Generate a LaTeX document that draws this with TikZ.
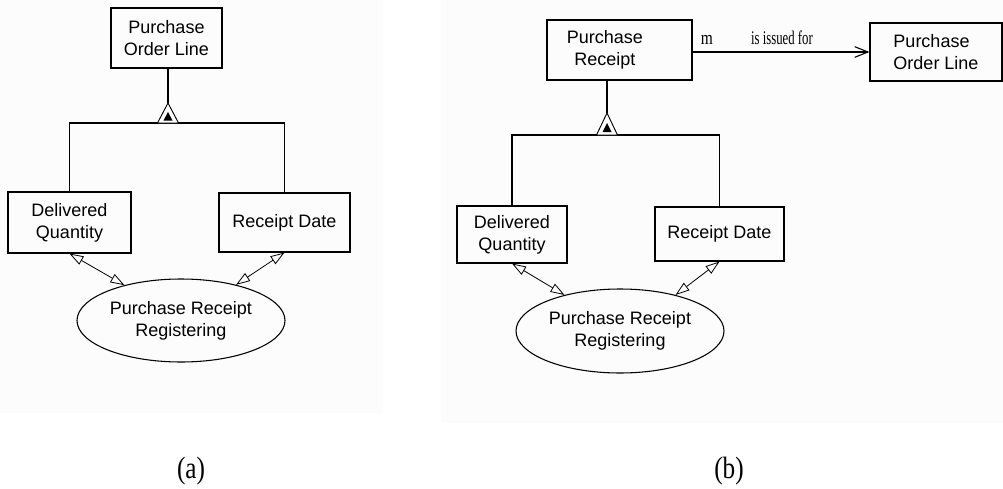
\documentclass[tikz,border=0pt]{standalone}
\usepackage{fontspec}
\setmainfont{Liberation Sans}
\newfontfamily\capfont{Liberation Serif}
\usepackage{graphicx}
\usetikzlibrary{arrows.meta,shapes.geometric}
\begin{document}
\begin{tikzpicture}[x=0.75pt,y=-0.75pt,
  line width=0.8pt,
  box/.style={draw,rectangle,inner sep=0pt,font=\fontsize{13.5}{16.5}\selectfont,align=center},
  usecase/.style={draw,ellipse,inner sep=0pt,font=\fontsize{13.5}{16.5}\selectfont,align=center},
  dep/.style={{Triangle[open,length=10.5pt,width=7pt]}-{Triangle[open,length=10.5pt,width=7pt]},line width=0.6pt},
  assoc/.style={-{Straight Barb[length=10pt,width=8pt]},line width=0.8pt},
  lbl/.style={font=\capfont\fontsize{14.5}{14.5}\selectfont,inner sep=0pt},
  captxt/.style={font=\capfont\fontsize{21}{21}\selectfont,inner sep=0pt,anchor=base},
  panel/.style={fill=black!1.2,draw=none}]
\useasboundingbox (0,0) rectangle (1003,489);
\fill[white] (0,0) rectangle (1003,489);
\path[panel] (0,0) rectangle (383,413);
\path[panel] (441,0) rectangle (1003,423);

% ---------- (a) ----------
\node[box,minimum width=83.25pt,minimum height=45pt] (pol1) at (166.5,38) {Purchase\\Order Line};
\node[box,minimum width=92.25pt,minimum height=45.75pt] (dq1) at (69.5,222.5) {Delivered\\Quantity};
\node[box,minimum width=98.25pt,minimum height=44.25pt] (rd1) at (284.5,222.5) {Receipt Date};
\node[usecase,minimum width=156pt,minimum height=62.25pt] (uc1) at (181,320.5) {Purchase Receipt\\Registering};

\coordinate (g1) at (168,103);
\coordinate (bar1) at (168,123);
\draw (pol1.south -| g1) -- (g1);
\draw (dq1.north) -- (dq1.north |- bar1) -- (rd1.north |- bar1) -- (rd1.north);
\draw[fill=white,line width=0.7pt] (g1) -- ++(-10.5,20) -- ++(21,0) -- cycle;
\fill (g1) ++(0,9) -- ++(-4.5,8.5) -- ++(9,0) -- cycle;

\draw[dep] (dq1.south) -- (uc1.148);
\draw[dep] (rd1.south) -- (uc1.33);

\node[captxt] (capa) at (191,478) {\scalebox{0.9}[1.1]{(a)}};

% ---------- (b) ----------
\node[box,minimum width=108.75pt,minimum height=45pt,text width=100pt] (pr) at (619.5,50) {\hspace*{-22pt}Purchase\\\hspace*{-22pt}Receipt};
\node[box,minimum width=99pt,minimum height=43.5pt,align=left] (pol2) at (936,52) {Purchase\\Order Line};
\node[box,minimum width=82.5pt,minimum height=42.75pt] (dq2) at (512,234.5) {Delivered\\Quantity};
\node[box,minimum width=96.75pt,minimum height=40.5pt] (rd2) at (719.5,234) {Receipt Date};
\node[usecase,minimum width=156pt,minimum height=63pt] (uc2) at (620,331) {Purchase Receipt\\Registering};

\coordinate (g2) at (607,113);
\coordinate (bar2) at (607,135);
\draw (pr.south -| g2) -- (g2);
\draw (dq2.north) -- (dq2.north |- bar2) -- (rd2.north |- bar2) -- (rd2.north);
\draw[fill=white,line width=0.7pt] (g2) -- ++(-10.5,22) -- ++(21,0) -- cycle;
\fill (g2) ++(0,10) -- ++(-4.5,9) -- ++(9,0) -- cycle;

\draw[dep] (dq2.south) -- (uc2.147);
\draw[dep] (rd2.south) -- (uc2.33);

\draw[assoc] (pr.east |- pol2.west) -- (pol2.west);
\node[lbl] (mlab) at (707,40) {\scalebox{0.8}[1]{m}};
\node[lbl] (islab) at (782,38) {\scalebox{0.66}[1]{is issued for}};

\node[captxt] (capb) at (729,478) {\scalebox{0.9}[1.1]{(b)}};
\end{tikzpicture}
\end{document}
